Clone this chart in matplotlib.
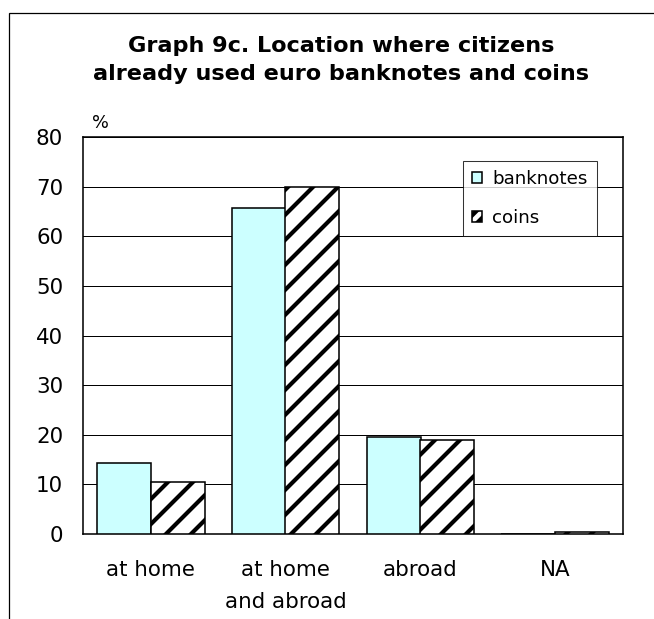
import matplotlib
matplotlib.use("Agg")
import matplotlib.pyplot as plt
from matplotlib.patches import Rectangle, Patch
import numpy as np

categories = ["at home", "at home\nand abroad", "abroad", "NA"]
banknotes = [14.4, 65.6, 19.6, 0.0]
coins = [10.4, 70.0, 18.9, 0.4]
yticks = [0, 10, 20, 30, 40, 50, 60, 70, 80]
series_names = ["banknotes", "coins"]
title_lines = ["Graph 9c. Location where citizens", "already used euro banknotes and coins"]

DPI = 75
W, H = 654, 619
plt.rcParams['font.family'] = ['DejaVu Sans']
plt.rcParams['hatch.linewidth'] = 4.0
plt.rcParams['hatch.color'] = 'black'

fig = plt.figure(figsize=(W / DPI, H / DPI), dpi=DPI)
fig.patch.set_facecolor('white')

def fx(px):
    return px / W

def fy(py):
    return 1 - py / H

ax = fig.add_axes([fx(83), fy(534), fx(623) - fx(83), fy(137) - fy(534)])

x = np.arange(len(categories))
w = 0.4
ax.bar(x - w / 2, banknotes, width=w, color='#CCFFFF', edgecolor='black', linewidth=1.5,
       label=series_names[0], zorder=3)
ax.bar(x + w / 2, coins, width=w, color='white', edgecolor='black', linewidth=1.5,
       hatch='/', label=series_names[1], zorder=3)

ax.set_xlim(-0.5, len(categories) - 0.5)
ax.set_ylim(0, 80)
ax.set_yticks(yticks)
ax.set_yticklabels([str(v) for v in yticks])
ax.set_xticks(x)
ax.set_xticklabels(categories, linespacing=1.72)
ax.tick_params(axis='y', length=0, pad=19, labelsize=20.5)
ax.tick_params(axis='x', length=0, pad=25, labelsize=20.5)
ax.yaxis.grid(True, color='black', linewidth=0.96, zorder=0)
ax.set_axisbelow(True)
for s in ax.spines.values():
    s.set_color('black')
    s.set_linewidth(1.5)

fig.text(fx(92), fy(128), "%", ha='left', va='baseline', fontsize=17)

for i, line in enumerate(title_lines):
    fig.text(fx(341), fy(52 + 28 * i), line, ha='center', va='baseline',
             fontsize=21.5, fontweight='bold')

handles = [
    Patch(facecolor='#CCFFFF', edgecolor='black', linewidth=1.5),
    Patch(facecolor='white', edgecolor='black', linewidth=1.5, hatch='//'),
]
leg = ax.legend(handles, series_names, loc='upper left', bbox_to_anchor=(fx(463), fy(161)),
                bbox_transform=fig.transFigure, borderaxespad=0,
                fontsize=17.5, frameon=True, fancybox=False, shadow=False,
                handlelength=0.55, handleheight=0.55, handletextpad=0.55,
                borderpad=0.5, labelspacing=1.15)
leg.get_frame().set_edgecolor('black')
leg.get_frame().set_linewidth(1.0)

fig.add_artist(Rectangle((fx(9), -0.1), 1.2, fy(13) + 0.1, transform=fig.transFigure,
                         fill=False, edgecolor='black', linewidth=1.2, clip_on=False))

fig.savefig("out.png", dpi=DPI, facecolor='white')
